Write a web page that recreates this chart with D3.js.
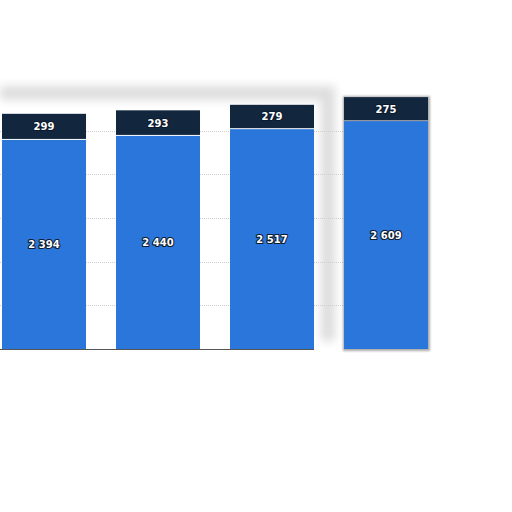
<!DOCTYPE html>
<html>
<head>
<meta charset="utf-8">
<script src="https://cdn.jsdelivr.net/npm/d3@7"></script>
<style>
  body { margin: 0; background: #fff; }
  svg { display: block; }
  .lbl { font-family: "DejaVu Sans", sans-serif; font-weight: bold; font-size: 10px;
         fill: #fff; stroke: #0d1b2e; stroke-width: 2.2px; paint-order: stroke; stroke-linejoin: round; }
</style>
</head>
<body>
<svg width="512" height="512"></svg>
<script>
// values
const categories = ['a', 'b', 'c', 'd']
const lower = [2394, 2440, 2517, 2609]
const upper = [299, 293, 279, 275]
const gridTicks = [500, 1000, 1500, 2000, 2500]

const fmt = (v) => d3.format(',')(v).replace(/,/g, ' ')

let svg = d3.select('svg')

let x = d3.scaleBand()
    .domain(categories)
    .range([-13, 443])
    .paddingInner(0.263)
    .paddingOuter(0.1316)

let y = d3.scaleLinear()
    .domain([0, 3000])
    .range([349, 87])

let defs = svg.append('defs')
defs.append('filter').attr('id', 'blur')
    .attr('x', '-20%').attr('y', '-20%').attr('width', '140%').attr('height', '140%')
    .append('feGaussianBlur').attr('stdDeviation', 5)
defs.append('filter').attr('id', 'soft')
    .attr('x', '-20%').attr('y', '-20%').attr('width', '140%').attr('height', '140%')
    .append('feGaussianBlur').attr('stdDeviation', 1.2)

// panel shadow (the frame looks lifted off the page)
let edge = x('c') + x.bandwidth() + 14
svg.append('path')
    .attr('d', `M0,${y(3000) + 6} L${edge},${y(3000) + 6} L${edge},${y(0) - 8}`)
    .attr('fill', 'none')
    .attr('stroke', '#dddddd')
    .attr('stroke-width', 14)
    .attr('filter', 'url(#blur)')
svg.append('line')
    .attr('x1', 0).attr('x2', edge - 10)
    .attr('y1', y(3000)).attr('y2', y(3000))
    .attr('stroke', '#bdbdbd').attr('stroke-width', 1.5)
    .attr('filter', 'url(#soft)')

// gridlines
svg.append('g')
    .selectAll('line')
    .data(gridTicks)
    .join('line')
    .attr('x1', 0)
    .attr('x2', x('d') + x.bandwidth())
    .attr('y1', (d) => Math.round(y(d)) + 0.5)
    .attr('y2', (d) => Math.round(y(d)) + 0.5)
    .attr('stroke', '#d0d0d0')
    .attr('stroke-dasharray', '1,1')

// shadow for the last bar
let last = categories.length - 1
svg.append('rect')
    .attr('x', x('d') - 1)
    .attr('y', y(lower[last] + upper[last]) - 1)
    .attr('width', x.bandwidth() + 3)
    .attr('height', y(0) - y(lower[last] + upper[last]) + 3)
    .attr('fill', '#aaa')
    .attr('filter', 'url(#soft)')

let bars = svg.append('g')
bars.selectAll('rect.low')
    .data(categories)
    .join('rect')
    .attr('class', 'low')
    .attr('x', (d) => x(d))
    .attr('width', x.bandwidth())
    .attr('y', (d, i) => y(lower[i]))
    .attr('height', (d, i) => y(0) - y(lower[i]))
    .attr('fill', '#2b76da')

bars.selectAll('rect.up')
    .data(categories)
    .join('rect')
    .attr('class', 'up')
    .attr('x', (d) => x(d))
    .attr('width', x.bandwidth())
    .attr('y', (d, i) => y(lower[i] + upper[i]))
    .attr('height', (d, i) => y(lower[i]) - y(lower[i] + upper[i]) - 1)
    .attr('fill', '#12263e')

// baseline
svg.append('line')
    .attr('x1', 0).attr('x2', x('c') + x.bandwidth())
    .attr('y1', y(0) + 0.5).attr('y2', y(0) + 0.5)
    .attr('stroke', '#555').attr('stroke-width', 1)

// labels
svg.append('g')
    .selectAll('text')
    .data(categories)
    .join('text')
    .attr('class', 'lbl')
    .attr('x', (d) => x(d) + x.bandwidth() / 2)
    .attr('y', (d, i) => (y(0) + y(lower[i])) / 2)
    .attr('text-anchor', 'middle')
    .attr('dy', '0.35em')
    .text((d, i) => fmt(lower[i]))

svg.append('g')
    .selectAll('text')
    .data(categories)
    .join('text')
    .attr('class', 'lbl')
    .attr('x', (d) => x(d) + x.bandwidth() / 2)
    .attr('y', (d, i) => (y(lower[i]) + y(lower[i] + upper[i])) / 2)
    .attr('text-anchor', 'middle')
    .attr('dy', '0.35em')
    .text((d, i) => fmt(upper[i]))
</script>
</body>
</html>
